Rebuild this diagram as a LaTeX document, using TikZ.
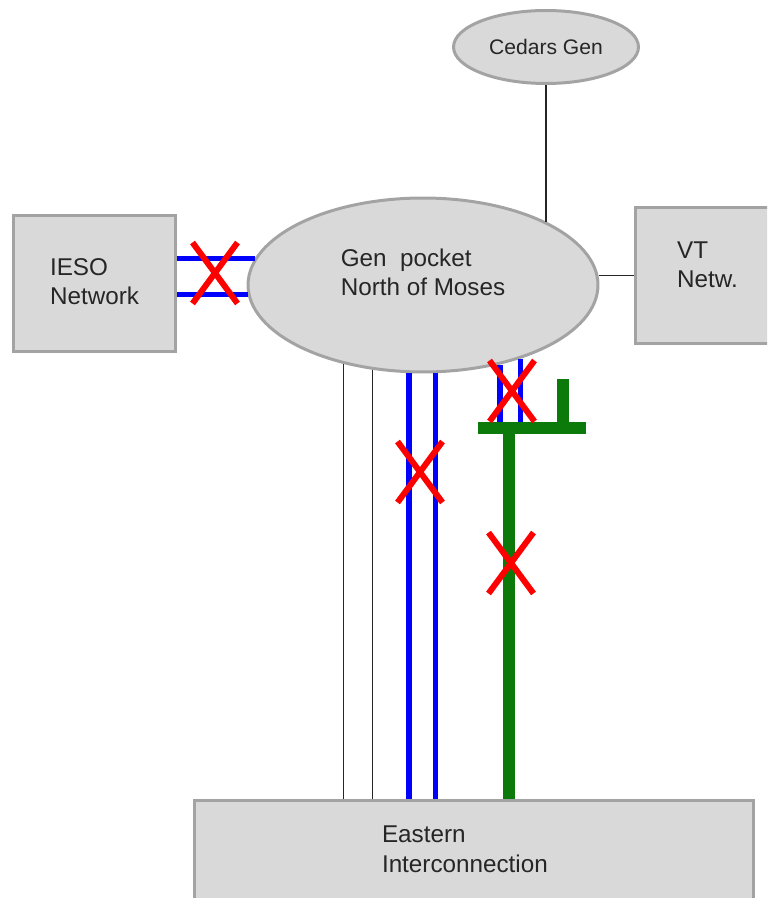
\documentclass[tikz,border=0pt]{standalone}
\usepackage{fontspec}
\setmainfont{Liberation Sans}
\usetikzlibrary{shapes.geometric, shapes.misc}
\definecolor{areafill}{HTML}{D9D9D9}
\definecolor{arealine}{HTML}{A3A3A3}
\definecolor{dcgreen}{HTML}{0B7A0B}
\tikzset{
  area/.style   = {draw=arealine, line width=1.7pt, fill=areafill, align=left,
                   font=\fontsize{13.8}{17}\selectfont, text=black!85, inner sep=0pt},
  gen/.style    = {area, ellipse},
  tie/.style    = {line width=0.6pt, black!85},
  acline/.style = {line width=3pt, blue},
  dcline/.style = {line width=6.8pt, dcgreen},
  outage/.style = {draw=red, cross out, line width=3.4pt, inner sep=0pt,
                   minimum width=0.78cm, minimum height=1.1cm}
}

\begin{document}
\begin{tikzpicture}[x=0.02cm, y=-0.02cm]
  \useasboundingbox (0,0) rectangle (767,898);
  \clip (0,0) rectangle (767,898);

  % ── Areas ─────────────────────────────────────────────────────────────────
  \node[gen, font=\fontsize{12}{15}\selectfont,
        minimum width=3.7cm, minimum height=1.46cm]  (cedars) at (546,47) {Cedars Gen};
  \node[gen, minimum width=7.0cm, minimum height=3.48cm,
        text height=12.5pt, text depth=0pt]          (pocket) at (423,285) {Gen~~pocket\\North of Moses};
  \node[area, minimum width=3.26cm, minimum height=2.74cm,
        text height=24.4pt, text depth=0pt]          (ieso) at (94.5,283.5) {IESO\\Network};
  \node[area, minimum width=2.9cm, minimum height=2.74cm,
        text height=14.2pt, text depth=0pt]          (vt) at (707.5,275.5) {VT\\Netw.};
  \node[area, minimum width=11.2cm, minimum height=2.1cm, text width=3.68cm,
        text height=10pt, text depth=21.4pt]         (east) at (474,853) {Eastern\\Interconnection};

  % ── Thin ties ─────────────────────────────────────────────────────────────
  \draw[tie] (cedars.south) -- (cedars.south |- pocket.27);
  \draw[tie] (pocket.3) -- (pocket.3 -| vt.west);
  \draw[tie] (pocket.225)   -- (pocket.225 |- east.north);
  \draw[tie] (pocket.239.4) -- (pocket.239.4 |- east.north);

  % ── AC lines (blue) ───────────────────────────────────────────────────────
  \draw[acline] (pocket.171 -| ieso.east) -- (pocket.171);
  \draw[acline] (pocket.183 -| ieso.east) -- (pocket.183);
  \draw[acline] (pocket.261.9) -- (pocket.261.9 |- east.north);
  \draw[acline] (pocket.278.4) -- (pocket.278.4 |- east.north);

  % ── DC tap (green) ────────────────────────────────────────────────────────
  \coordinate (busL) at (478,428);
  \coordinate (busR) at (586,428);
  \coordinate (stub) at (563,379);
  \coordinate (tap)  at (509,428);
  \draw[acline] (pocket.314.7) -- (pocket.314.7 |- busL);
  \draw[acline] (pocket.323.3) -- (pocket.323.3 |- busL);
  \draw[dcline] (busL) -- (busR);
  \draw[dcline] (stub) -- (stub |- busL);
  \draw[dcline] (tap) -- (tap |- east.north);

  % ── Outages ───────────────────────────────────────────────────────────────
  \node[outage] (cutIeso) at (215,273) {};
  \node[outage] (cutAc)   at (420,472) {};
  \node[outage] (cutTap)  at (512,391) {};
  \node[outage] (cutDc)   at (511,563) {};

\end{tikzpicture}
\end{document}
